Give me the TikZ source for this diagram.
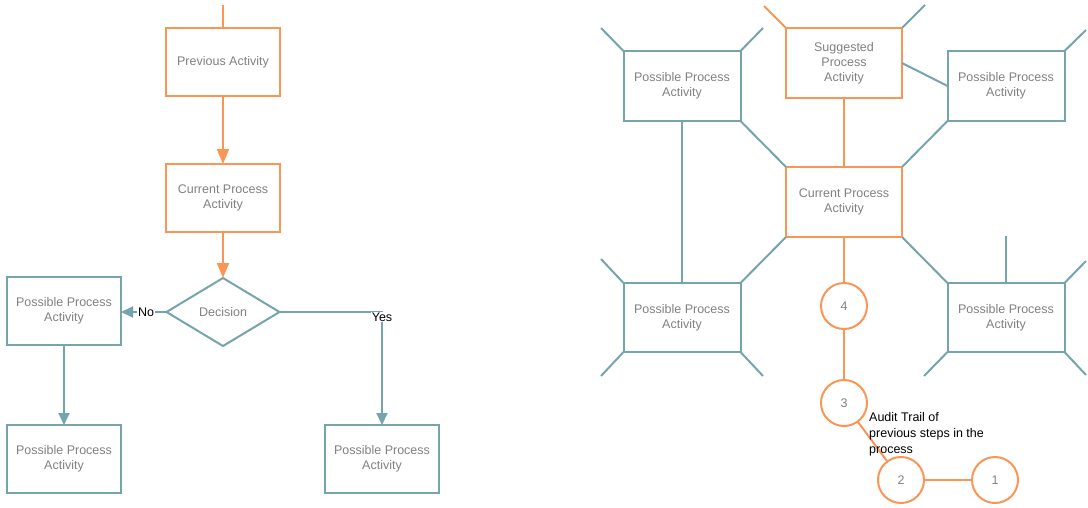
\documentclass[tikz,border=0pt]{standalone}
\usepackage{fontspec}
\setmainfont{Liberation Sans}
\usetikzlibrary{arrows.meta,shapes.geometric}
\definecolor{ora}{RGB}{250,150,85}
\definecolor{tea}{RGB}{118,164,172}
\definecolor{txt}{RGB}{128,128,128}
\begin{document}
\begin{tikzpicture}[x=1pt,y=-1pt,
  font=\fontsize{12.5}{15}\selectfont,
  base/.style={align=center, text=txt, inner sep=0pt, outer sep=0pt},
  obox/.style={base, draw=ora, line width=2.2pt, minimum width=114pt, minimum height=68pt},
  tbox/.style={base, draw=tea, line width=2pt, minimum width=114pt, minimum height=68pt},
  robox/.style={obox, minimum width=116pt, minimum height=70pt},
  rtbox/.style={tbox, minimum width=117pt, minimum height=70pt},
  dia/.style={base, draw=tea, line width=2pt, shape=diamond, minimum width=113pt, minimum height=68pt},
  circ/.style={base, draw=ora, line width=2pt, shape=circle, minimum size=46pt},
  oline/.style={draw=ora, line width=2pt},
  tline/.style={draw=tea, line width=2pt},
  oarrow/.style={oline, -{Triangle[length=15pt,width=12pt]}},
  tarrow/.style={tline, -{Triangle[length=12pt,width=11pt]}},
  lab/.style={fill=white, text=black, inner sep=1pt}
]
\useasboundingbox (0,0) rectangle (1088,507);

% ---------- left flowchart ----------
\coordinate (ltop) at (223,5);
\node[obox] (prev) at (223,62) {Previous Activity};
\node[obox] (cur) at (223,198) {Current Process\\Activity};
\node[dia] (dec) at (223,312) {Decision};
\node[tbox] (pl1) at (64,311) {Possible Process\\Activity};
\node[tbox] (pl2) at (64,459) {Possible Process\\Activity};
\node[tbox] (pr) at (382,459) {Possible Process\\Activity};

\draw[oline] (ltop) -- (prev);
\draw[oarrow] (prev) -- (cur);
\draw[oarrow] (cur) -- (dec);
\draw[tarrow] (dec.west) -- node[lab, pos=0.45]{No} (pl1.east |- dec.west);
\draw[tarrow] (pl1) -- (pl2);
\draw[tarrow] (dec.east) -| node[lab, pos=0.5, yshift=-5pt]{Yes} (pr.north);

% ---------- right map ----------
\node[robox] (sug) at (844,63) {Suggested\\Process\\Activity};
\node[robox] (rcur) at (844,202) {Current Process\\Activity};
\node[rtbox] (tl) at (682,86) {Possible Process\\Activity};
\node[rtbox] (tr) at (1006,86) {Possible Process\\Activity};
\node[rtbox, minimum height=69pt] (bl) at (682,317.5) {Possible Process\\Activity};
\node[rtbox, minimum height=69pt] (br) at (1006,317.5) {Possible Process\\Activity};

\node[circ] (c4) at (844,306) {4};
\node[circ] (c3) at (844,403) {3};
\node[circ] (c2) at (901,480) {2};
\node[circ] (c1) at (995,480) {1};

% stub ends
\coordinate (s1) at (764,6);
\coordinate (s2) at (925,5);
\coordinate (s3) at (601,28);
\coordinate (s4) at (763,28);
\coordinate (s5) at (1086,30);
\coordinate (s6) at (601,259);
\coordinate (s7) at (601,376);
\coordinate (s8) at (763,376);
\coordinate (s9) at (1006,236);
\coordinate (s10) at (1086,261);
\coordinate (s11) at (924,376);
\coordinate (s12) at (1086,375);

\draw[oline] (sug.north west) -- (s1);
\draw[tline] (sug.north east) -- (s2);
\draw[tline] (tl.north west) -- (s3);
\draw[tline] (tl.north east) -- (s4);
\draw[tline] (tr.north east) -- (s5);
\draw[tline] (bl.north west) -- (s6);
\draw[tline] (bl.south west) -- (s7);
\draw[tline] (bl.south east) -- (s8);
\draw[tline] (br.north) -- (s9);
\draw[tline] (br.north east) -- (s10);
\draw[tline] (br.south west) -- (s11);
\draw[tline] (br.south east) -- (s12);

\draw[tline] (tl.south east) -- (rcur.north west);
\draw[tline] (tl.south) -- (bl.north);
\draw[tline] (sug.east) -- (tr.west);
\draw[tline] (tr.south west) -- (rcur.north east);
\draw[tline] (bl.north east) -- (rcur.south west);
\draw[tline] (br.north west) -- (rcur.south east);

\draw[oline] (sug) -- (rcur);
\draw[oline] (rcur) -- (c4);
\draw[oline] (c4) -- (c3);
\draw[oline] (c3) -- (c2);
\draw[oline] (c2) -- (c1);

\node[anchor=north west, align=left, inner sep=0pt, text=black,
      font=\fontsize{12.5}{16}\selectfont] (audit) at (869,412)
  {Audit Trail of\\previous steps in the\\process};
\end{tikzpicture}
\end{document}
